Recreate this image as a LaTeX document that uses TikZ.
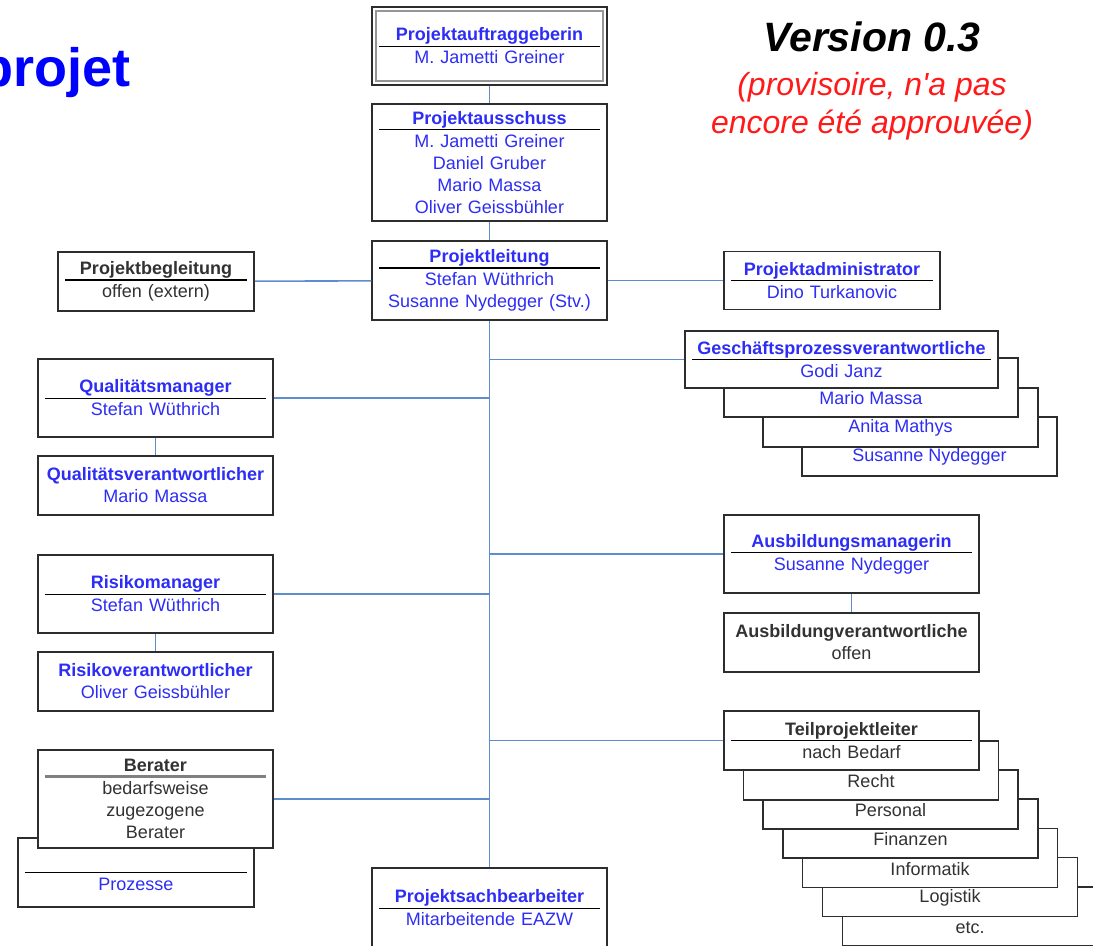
\documentclass[tikz,border=0pt]{standalone}
\usepackage{fontspec}
\setmainfont{Liberation Sans}
\usepackage{tikz}
\usetikzlibrary{positioning}
\definecolor{nameblue}{RGB}{45,45,245}
\definecolor{namegrey}{RGB}{50,50,50}
\definecolor{linkblue}{RGB}{95,140,205}
\definecolor{boxline}{RGB}{45,45,45}
\definecolor{titleblue}{RGB}{0,0,255}
\definecolor{versred}{RGB}{255,25,25}
\newcommand{\boxfont}{\fontsize{9}{11}\selectfont}
\newcommand{\ohead}[2]{\textbf{#1}\\[-8pt]{\color{black}\rule{\dimexpr\linewidth-3pt\relax}{.7pt}}\\[-2.5pt]#2}
\tikzset{
  obox/.style 2 args = {rectangle, draw=boxline, line width=.75pt, fill=white,
    minimum width=#1, minimum height=#2, text width=#1-4pt, inner xsep=2pt,
    inner ysep=0pt, align=center, font=\boxfont},
  stacktext/.style = {font=\boxfont, inner sep=0pt},
  link/.style = {draw=linkblue, line width=.8pt}
}
\begin{document}
\begin{tikzpicture}[x=0.5pt, y=-0.5pt]
\useasboundingbox (0,0) rectangle (1093,946);
% title and version
\node[anchor=base east, text=titleblue, font=\fontsize{27}{32}\selectfont\bfseries] (titel) at (138,87) {projet};
\node[anchor=base, font=\fontsize{20.5}{24}\selectfont\bfseries\itshape] (version) at (872,52) {Version 0.3};
\node[align=center, text=versred, font=\fontsize{16}{19}\selectfont\itshape] (status) at (872,106) {(provisoire, n\textquotesingle a pas\\encore été approuvée)};
% central column
\node[obox={117.5pt}{39pt}, text=nameblue] (auftrag) at (489.5,46) {\ohead{Projektauftraggeberin}{M. Jametti Greiner}};
\draw[boxline!50, line width=.9pt] ([shift={(2.3pt,-2.3pt)}]auftrag.north west) rectangle ([shift={(-2.3pt,2.3pt)}]auftrag.south east);
\node[obox={117.5pt}{58.5pt}, text=nameblue] (ausschuss) at (489.5,162.5) {\ohead{Projektausschuss}{M. Jametti Greiner\\Daniel Gruber\\Mario Massa\\Oliver Geissbühler}};
\node[obox={117.5pt}{39.5pt}, text=nameblue] (leitung) at (489.5,280.5) {\ohead{Projektleitung}{Stefan Wüthrich\\Susanne Nydegger (Stv.)}};
\node[obox={117.5pt}{40pt}, text=nameblue] (sachb) at (489.5,908) {\ohead{Projektsachbearbeiter}{Mitarbeitende EAZW}};
\node[obox={98pt}{29.5pt}, text=namegrey] (begleitung) at (156,281.5) {\ohead{Projektbegleitung}{offen (extern)}};
\node[obox={108pt}{29pt}, text=nameblue] (admin) at (832,280.5) {\ohead{Projektadministrator}{Dino Turkanovic}};
% left side
\node[obox={117.5pt}{39pt}, text=nameblue] (qm) at (155.5,398) {\ohead{Qualitätsmanager}{Stefan Wüthrich}};
\node[obox={117.5pt}{29.5pt}, text=nameblue] (qv) at (155.5,485.5) {\textbf{Qualitätsverantwortlicher}\\Mario Massa};
\node[obox={117.5pt}{39pt}, text=nameblue] (rm) at (155.5,594) {\ohead{Risikomanager}{Stefan Wüthrich}};
\node[obox={117.5pt}{29.5pt}, text=nameblue] (rv) at (155.5,681.5) {\textbf{Risikoverantwortlicher}\\Oliver Geissbühler};
\node[obox={118pt}{34.5pt}, text=nameblue] (prozesse) at (136,872.5) {\ohead{\vphantom{Ag}}{Prozesse}};
\node[obox={117.5pt}{49pt}, text=namegrey] (berater) at (155.5,799) {\textbf{Berater}\\[-8pt]{\color{gray}\rule{\dimexpr\linewidth-3pt\relax}{1.3pt}}\\[-2.5pt]bedarfsweise\\zugezogene\\Berater};
% right side
\node[obox={127.5pt}{29.5pt}] (gp4) at (929.5,446.5) {};
\node[obox={137.5pt}{29.5pt}] (gp3) at (900.5,417.5) {};
\node[obox={147pt}{29.5pt}] (gp2) at (871,387.5) {};
\node[obox={156.5pt}{28.5pt}, text=nameblue] (gp1) at (841.5,359.5) {\ohead{Geschäftsprozessverantwortliche}{Godi Janz}};
\node[stacktext, text=nameblue] (gp2name) at ([yshift=-20.5pt]gp2.north) {Mario Massa};
\node[stacktext, text=nameblue] (gp3name) at ([yshift=-20.5pt]gp3.north) {Anita Mathys};
\node[stacktext, text=nameblue] (gp4name) at ([yshift=-20.5pt]gp4.north) {Susanne Nydegger};
\node[obox={127.5pt}{39pt}, text=nameblue] (ausbm) at (851.5,554) {\ohead{Ausbildungsmanagerin}{Susanne Nydegger}};
\node[obox={127.5pt}{29.5pt}, text=namegrey] (ausbv) at (851.5,642.5) {\textbf{Ausbildungverantwortliche}\\offen};
\node[obox={127.5pt}{29.5pt}] (tpl7) at (970,916.5) {};
\node[obox={127.5pt}{29.5pt}] (tpl6) at (950,887) {};
\node[obox={127.5pt}{29.5pt}] (tpl5) at (930,858) {};
\node[obox={127.5pt}{29.5pt}] (tpl4) at (910.5,828.5) {};
\node[obox={127.5pt}{29.5pt}] (tpl3) at (890.5,799.5) {};
\node[obox={127.5pt}{29.5pt}] (tpl2) at (871,770.5) {};
\node[obox={127.5pt}{29.5pt}, text=namegrey] (tpl1) at (851.5,740.5) {\ohead{Teilprojektleiter}{nach Bedarf}};
\node[stacktext, text=namegrey] (tpl2name) at ([yshift=-20.5pt]tpl2.north) {Recht};
\node[stacktext, text=namegrey] (tpl3name) at ([yshift=-20.5pt]tpl3.north) {Personal};
\node[stacktext, text=namegrey] (tpl4name) at ([yshift=-20.5pt]tpl4.north) {Finanzen};
\node[stacktext, text=namegrey] (tpl5name) at ([yshift=-20.5pt]tpl5.north) {Informatik};
\node[stacktext, text=namegrey] (tpl6name) at ([yshift=-20.5pt]tpl6.north) {Logistik};
\node[stacktext, text=namegrey] (tpl7name) at ([yshift=-21pt]tpl7.north) {etc.};
% connectors
\draw[link] (auftrag) -- (ausschuss);
\draw[link] (ausschuss) -- (leitung);
\draw[link] (leitung) -- (sachb);
\draw[link] (begleitung) -- (leitung);
\draw[link] (leitung) -- (admin);
\draw[link] (gp1.west) -- (gp1.west -| leitung.south);
\draw[link] (qm.east) -- (qm.east -| leitung.south);
\draw[link] (ausbm.west) -- (ausbm.west -| leitung.south);
\draw[link] (rm.east) -- (rm.east -| leitung.south);
\draw[link] (tpl1.west) -- (tpl1.west -| leitung.south);
\draw[link] (berater.east) -- (berater.east -| leitung.south);
\draw[link] (qm) -- (qv);
\draw[link] (rm) -- (rv);
\draw[link] (ausbm) -- (ausbv);
\end{tikzpicture}
\end{document}
